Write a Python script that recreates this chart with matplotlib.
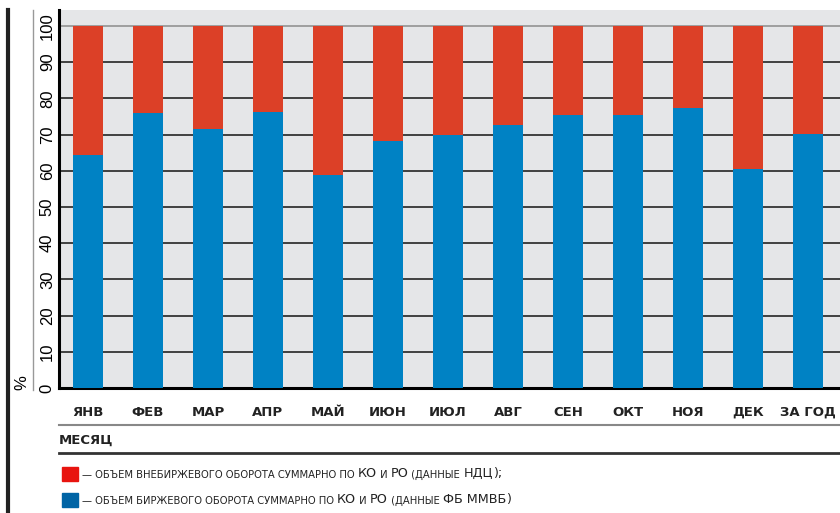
import matplotlib
matplotlib.use('Agg')
import matplotlib.pyplot as plt
from matplotlib.lines import Line2D
from matplotlib.patches import Rectangle
from matplotlib.text import Annotation

months = ['ЯНВ', 'ФЕВ', 'МАР', 'АПР', 'МАЙ', 'ИЮН', 'ИЮЛ',
          'АВГ', 'СЕН', 'ОКТ', 'НОЯ', 'ДЕК', 'ЗА ГОД']
# share of exchange turnover, %
exchange = [64.4, 76.0, 71.5, 76.2, 58.8, 68.2, 69.9,
            72.7, 75.4, 75.4, 77.4, 60.4, 70.2]
otc = [100 - v for v in exchange]

RED = '#dc4027'
BLUE = '#0082c4'
plt.rcParams['font.family'] = ['Liberation Sans Narrow', 'DejaVu Sans']

W, H = 840, 513
fig = plt.figure(figsize=(W / 100, H / 100), dpi=100)

def fx(px):
    return px / W

def fy(py):
    return 1 - py / H

ax = fig.add_axes([fx(59), fy(388), 1 - fx(59), fy(10) - fy(388)])
ax.set_facecolor('#e5e6e8')
x = list(range(len(months)))
ax.bar(x, exchange, width=0.5, color=BLUE, zorder=3)
ax.bar(x, otc, width=0.5, bottom=exchange, color=RED, zorder=3)
ax.set_xlim(-0.483, 12.533)
ax.set_ylim(0, 104.4)

for v in range(10, 101, 10):
    ax.axhline(v, color='#333333' if v < 100 else '#999999', lw=1.3, zorder=1)

ax.set_yticks(range(0, 101, 10))
ax.set_yticklabels([str(v) for v in range(0, 101, 10)], rotation=90,
                   va='center', fontsize=12, family=['Liberation Sans', 'DejaVu Sans'])
ax.tick_params(axis='y', length=0, pad=3)
ax.set_xticks(x)
ax.set_xticklabels(months, fontsize=9.5, fontweight='bold', color='#222222')
ax.tick_params(axis='x', length=0, pad=13)
for s in ['top', 'right']:
    ax.spines[s].set_visible(False)
ax.spines['left'].set_linewidth(2.2)
ax.spines['bottom'].set_linewidth(2.2)

# frame lines outside the axes
fig.add_artist(Line2D([fx(8), fx(8)], [fy(10), 0], color='#222222', lw=3))
fig.add_artist(Line2D([fx(33), fx(33)], [fy(10), fy(390)], color='#999999', lw=1))
fig.text(fx(22), fy(383), '%', rotation=90, ha='center', va='center', fontsize=12,
         family=['Liberation Sans', 'DejaVu Sans'])
fig.add_artist(Line2D([fx(59), 1], [fy(425), fy(425)], color='#888888', lw=1.5))
fig.text(fx(59), fy(440), 'МЕСЯЦ', ha='left', va='center', fontsize=9.5,
         fontweight='bold', color='#222222')
fig.add_artist(Line2D([fx(59), 1], [fy(453), fy(453)], color='#333333', lw=2))

# legend, small caps imitated with two sizes
SMALL, BIG = 7.2, 9.2
legend_rows = [
    ('#e8140f', [('— ОБЪЕМ ВНЕБИРЖЕВОГО ОБОРОТА СУММАРНО ПО ', SMALL), ('КО', BIG),
                 (' И ', SMALL), ('РО', BIG), (' (ДАННЫЕ ', SMALL), ('НДЦ', BIG), (');', BIG)]),
    ('#0064a5', [('— ОБЪЕМ БИРЖЕВОГО ОБОРОТА СУММАРНО ПО ', SMALL), ('КО', BIG),
                 (' И ', SMALL), ('РО', BIG), (' (ДАННЫЕ ', SMALL), ('ФБ ММВБ', BIG), (')', BIG)]),
]
for i, (col, parts) in enumerate(legend_rows):
    top = 467 + 26 * i
    fig.add_artist(Rectangle((fx(62), fy(top + 14)), fx(16), fy(top) - fy(top + 14),
                             color=col, transform=fig.transFigure))
    prev = fig.text(fx(82), fy(top + 11), parts[0][0], fontsize=parts[0][1],
                    ha='left', va='baseline', color='#222222')
    for txt, size in parts[1:]:
        prev = fig.add_artist(Annotation(txt, xy=(1, 0), xycoords=prev, fontsize=size,
                                         color='#222222', ha='left', va='bottom',
                                         annotation_clip=False))

fig.savefig('out.png', dpi=100)
